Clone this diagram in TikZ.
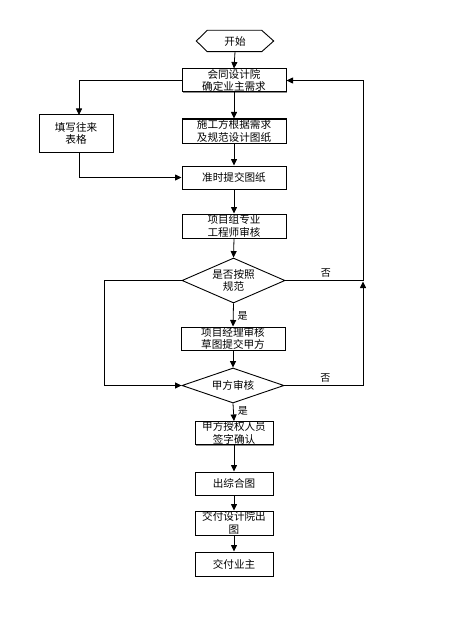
\documentclass[tikz,border=0pt]{standalone}
\usepackage{fontspec}
\newfontfamily\cjk{Noto Sans CJK SC}
\usetikzlibrary{arrows.meta,shapes.geometric,shadows}
\begin{document}
\begin{tikzpicture}[x=1pt,y=-1pt,
  font=\cjk\fontsize{10.6}{12.5}\selectfont,
  box/.style={draw,line width=1pt,fill=white,align=center,inner sep=0pt,
    drop shadow={shadow xshift=1pt,shadow yshift=-1pt,fill=black!45,opacity=1}},
  dia/.style={draw,line width=0.9pt,diamond,aspect=2.3,inner sep=0pt,align=center,fill=white},
  conn/.style={line width=0.8pt},
  arr/.style={conn,-{Triangle[length=6.5pt,width=6pt]}},
  lbl/.style={inner sep=0pt,font=\cjk\fontsize{10}{11}\selectfont}]
\useasboundingbox (0,0) rectangle (453,623);
% start hexagon
\node[inner sep=0pt,minimum width=77pt,minimum height=21pt] (start) at (235,41) {开始};
\draw[line width=0.9pt] (start.west) -- ([xshift=11pt]start.north west) -- ([xshift=-12pt]start.north east)
  -- (start.east) -- ([xshift=-12pt]start.south east) -- ([xshift=11pt]start.south west) -- cycle;
% main boxes
\node[box,minimum width=104pt,minimum height=23pt] (b1) at (234,80.5) {会同设计院\\确定业主需求};
\node[box,minimum width=104pt,minimum height=24pt] (b2) at (234,131) {施工方根据需求\\及规范设计图纸};
\node[box,minimum width=104pt,minimum height=23pt] (b3) at (234,177.5) {准时提交图纸};
\node[box,minimum width=104pt,minimum height=24pt] (b4) at (234,226) {项目组专业\\工程师审核};
\node[box,minimum width=74pt,minimum height=37pt] (lb) at (76,133.5) {填写往来\\表格};
\node[dia,minimum width=103pt,minimum height=45pt] (d1) at (233.5,280.5) {是否按照\\规范};
\node[box,minimum width=104pt,minimum height=23pt] (b5) at (233,338.5) {项目经理审核\\草图提交甲方};
\node[dia,minimum width=102pt,minimum height=35pt] (d2) at (233,385.5) {甲方审核};
\node[box,minimum width=78pt,minimum height=23pt] (b6) at (234,433) {甲方授权人员\\签字确认};
\node[box,minimum width=78pt,minimum height=23pt] (b7) at (234,483.5) {出综合图};
\node[box,minimum width=78pt,minimum height=24pt] (b8) at (234,523) {交付设计院出\\图};
\node[box,minimum width=78pt,minimum height=24pt] (b9) at (234,564) {交付业主};
% helper coordinates
\coordinate (lt) at (79,80.5);
\coordinate (lbt) at (79,115);
\coordinate (lbb) at (79,152);
\coordinate (lbc) at (79,177.5);
\coordinate (r1) at (363,280.5);
\coordinate (r0) at (363,80.5);
\coordinate (r2) at (363,385.5);
\coordinate (rm) at (363,281.5);
\coordinate (l1) at (104,280.5);
\coordinate (l2) at (104,385.5);
% main flow
\draw[arr] (start.south) -- (b1.north);
\draw[arr] (b1.south) -- (b2.north);
\draw[arr] (b2.south) -- (b3.north);
\draw[arr] (b3.south) -- (b4.north);
\draw[arr] (b4.south) -- (d1.north);
\draw[arr] (d1.south) -- node[lbl,right=4pt,pos=0.55] {是} (b5.north);
\draw[arr] (b5.south) -- (d2.north);
\draw[arr] (d2.south) -- node[lbl,right=4pt,pos=0.45] {是} (b6.north);
\draw[arr] (b6.south) -- (b7.north);
\draw[arr] (b7.south) -- (b8.north);
\draw[arr] (b8.south) -- (b9.north);
% left branch
\draw[arr] (b1.west) -- (lt) -- (lbt);
\draw[arr] (lbb) -- (lbc) -- (b3.west);
% no branches
\draw[arr] (d1.east) -- node[lbl,above=3pt,pos=0.52] {否} (r1) -- (r0) -- (b1.east);
\draw[arr] (d2.east) -- node[lbl,above=3pt,pos=0.52] {否} (r2) -- (rm);
\draw[arr] (d1.west) -- (l1) -- (l2) -- (d2.west);
\end{tikzpicture}
\end{document}
